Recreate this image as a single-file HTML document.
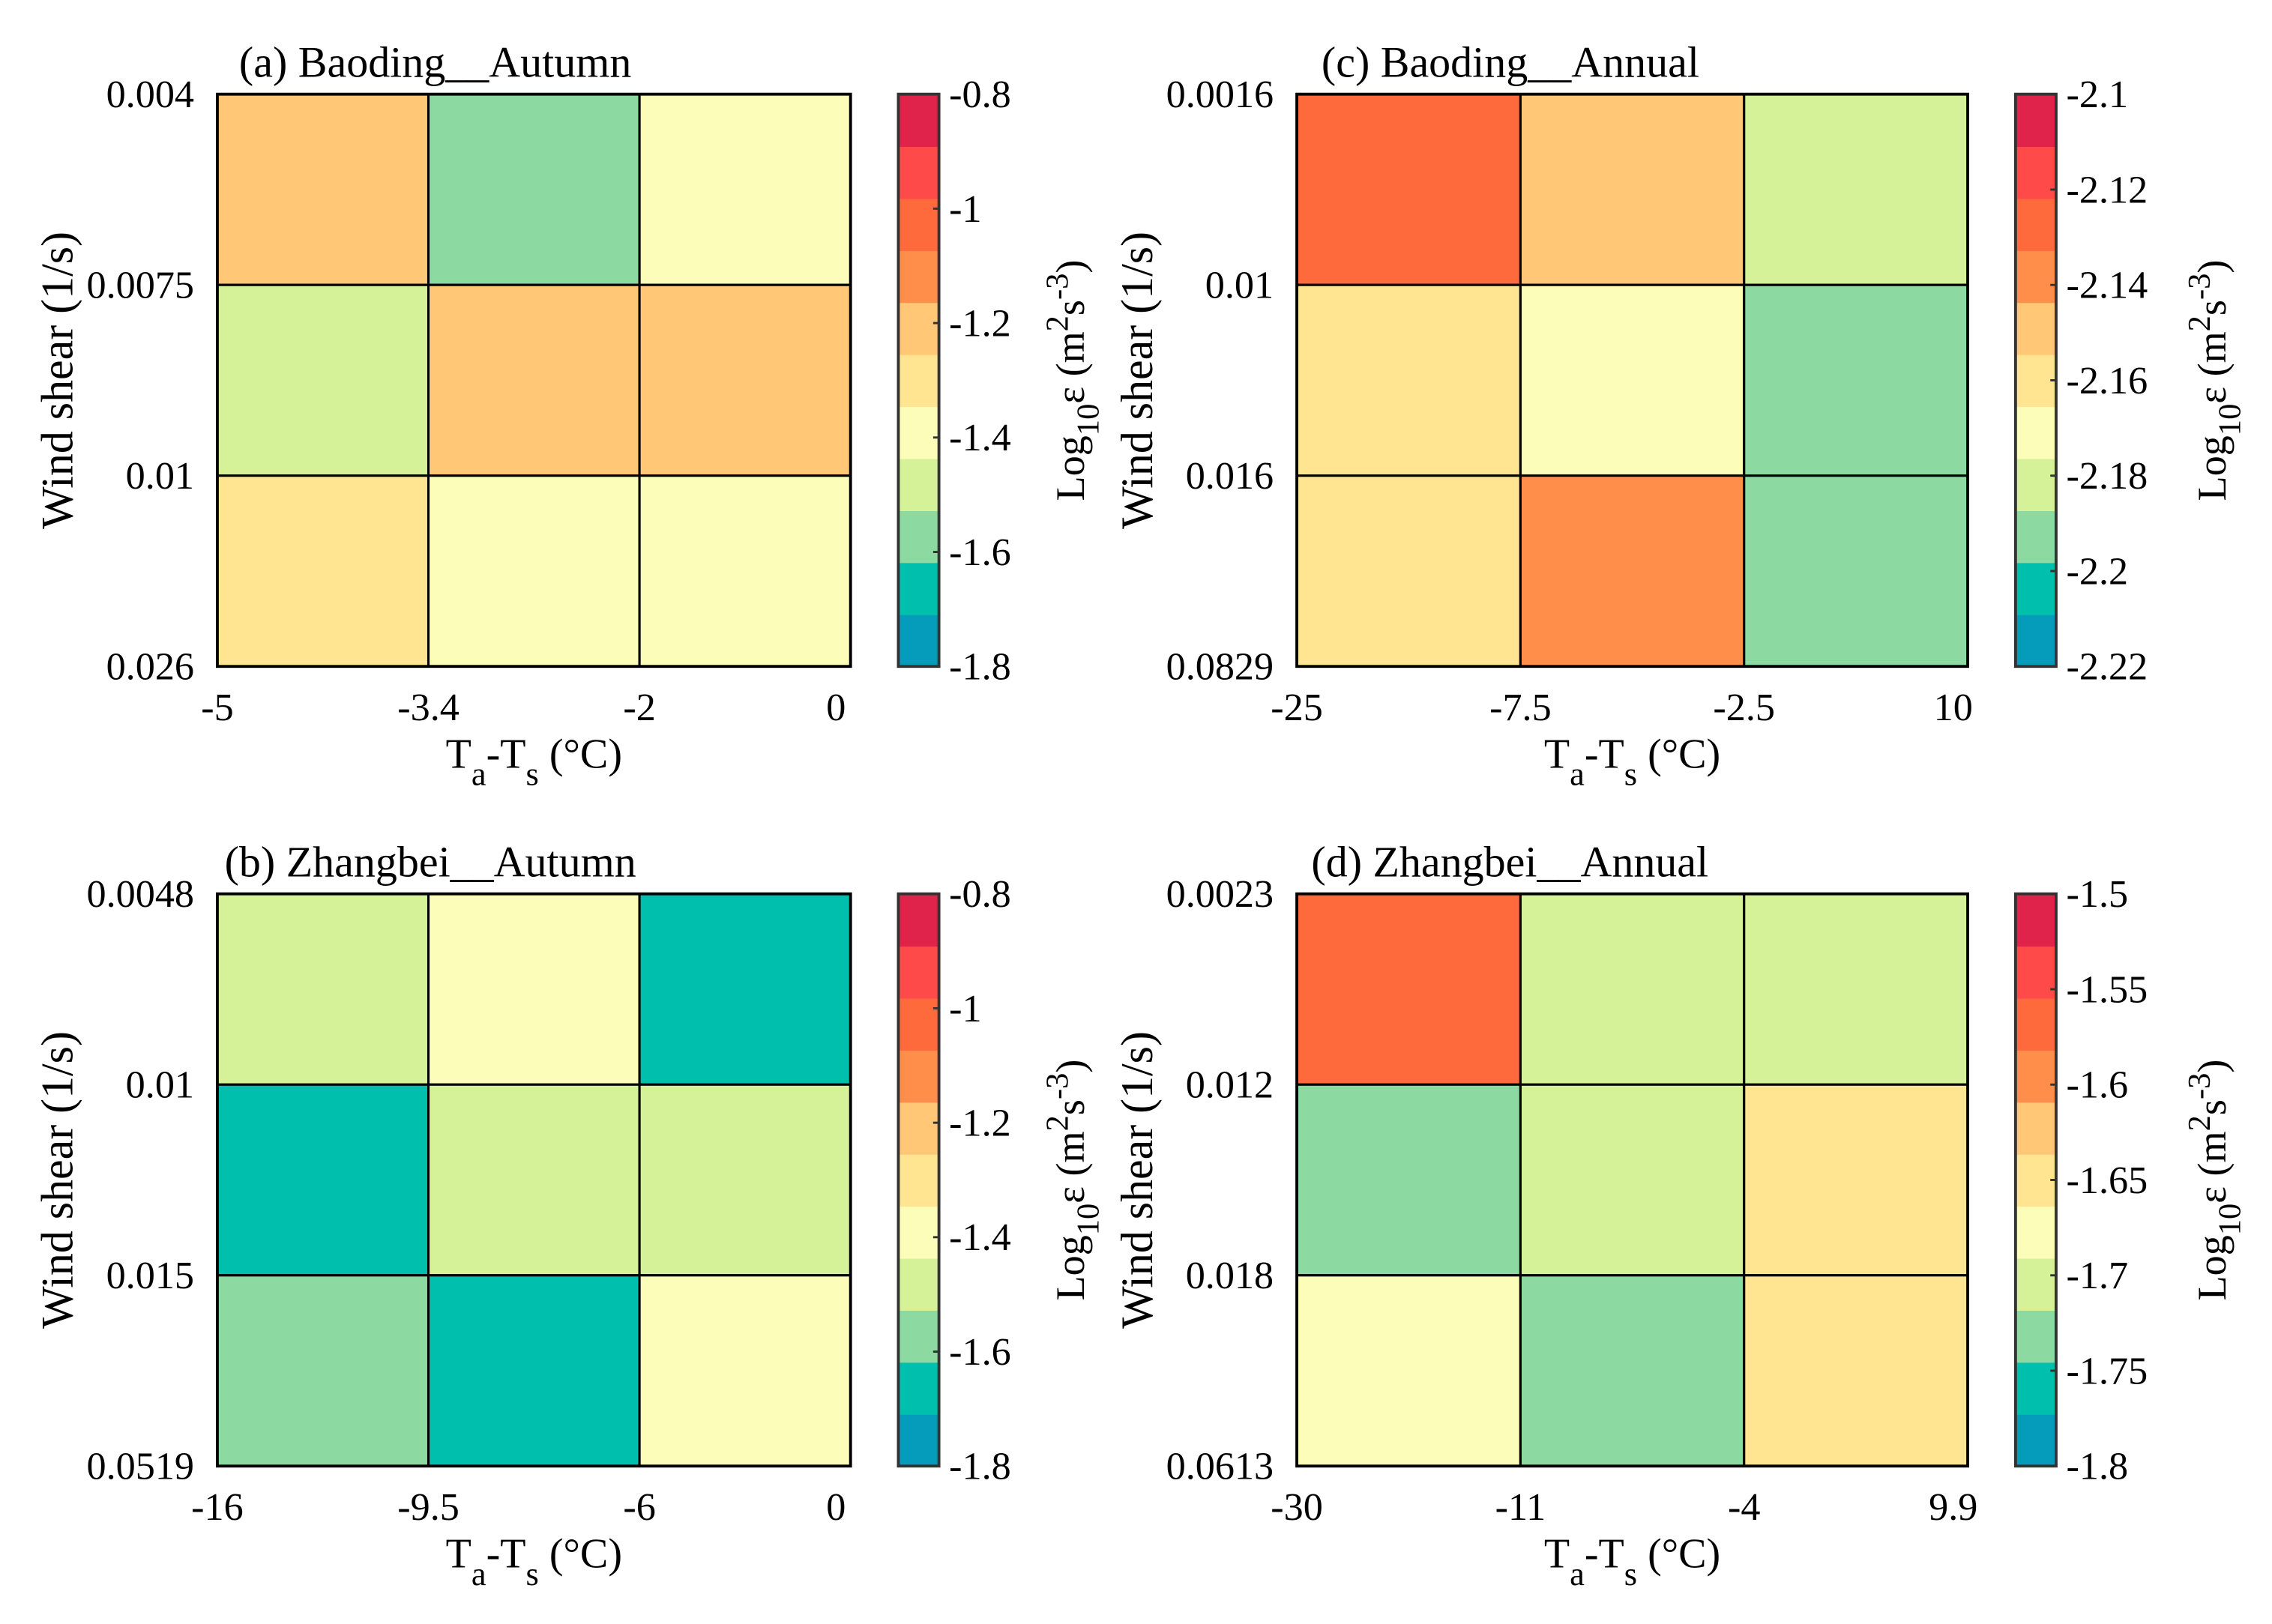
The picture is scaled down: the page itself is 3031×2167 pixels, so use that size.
<!DOCTYPE html>
<html><head><meta charset="utf-8">
<style>
html,body{margin:0;padding:0;background:#fff;}
svg{display:block;font-family:"Liberation Serif",serif;}
</style></head>
<body>
<svg id="fig" width="3031" height="2167" viewBox="0 0 1568 1121" xmlns="http://www.w3.org/2000/svg"></svg>
<script>
const cmap=["#059bba","#00bfad","#8cd9a2","#d5f298","#fbfdb9","#ffe591","#ffc776","#ff8e4b","#ff6a3d","#ff4a4a","#e0234a"];
const binsA=[[6,2,4],[3,6,6],[5,4,4]];
const binsC=[[8,6,3],[5,4,2],[5,7,2]];
const binsB=[[3,4,1],[1,3,3],[2,1,4]];
const binsD=[[8,3,3],[2,3,5],[4,2,5]];
const yTicksA=["0.004","0.0075","0.01","0.026"];
const yTicksC=["0.0016","0.01","0.016","0.0829"];
const yTicksB=["0.0048","0.01","0.015","0.0519"];
const yTicksD=["0.0023","0.012","0.018","0.0613"];
const xTicksA=["-5","-3.4","-2","0"];
const xTicksC=["-25","-7.5","-2.5","10"];
const xTicksB=["-16","-9.5","-6","0"];
const xTicksD=["-30","-11","-4","9.9"];
const cbTicksA=["-0.8","-1","-1.2","-1.4","-1.6","-1.8"];
const cbTicksC=["-2.1","-2.12","-2.14","-2.16","-2.18","-2.2","-2.22"];
const cbTicksD=["-1.5","-1.55","-1.6","-1.65","-1.7","-1.75","-1.8"];
const ranges={a:[-1.8,-0.8],c:[-2.22,-2.1],b:[-1.8,-0.8],d:[-1.8,-1.5]};

const NS="http://www.w3.org/2000/svg";
const svg=document.getElementById('fig');
function mk(tag,attrs,parent){const e=document.createElementNS(NS,tag);for(const k in attrs)e.setAttribute(k,attrs[k]);(parent||svg).appendChild(e);return e;}
function txt(s,attrs,parent){const e=mk('text',attrs,parent);e.textContent=s;return e;}

function panel(key,title,bins,yT,xT,cbT,X0,X1,Y0,Y1,titleX,cbOff){
  const [vmin,vmax]=ranges[key];
  const g=mk('g',{});
  
  
  const vals=bins.map(r=>r.map(b=>vmin+(b+0.5)*(vmax-vmin)/11));
  const nx=3,ny=3;
  const xs=i=>X0+(X1-X0)*i/nx, ys=j=>Y0+(Y1-Y0)*j/ny;
  const col=v=>{let i=Math.floor((v-vmin)/(vmax-vmin)*11);i=Math.max(0,Math.min(10,i));return cmap[i];};
  vals.forEach((row,j)=>row.forEach((v,i)=>{
    const r=mk('rect',{x:xs(i),y:ys(j),width:xs(i+1)-xs(i),height:ys(j+1)-ys(j),fill:col(v),stroke:'#000','stroke-width':1.6},g);
    
    
  }));
  mk('rect',{x:X0,y:Y0,width:X1-X0,height:Y1-Y0,fill:'none',stroke:'#000','stroke-width':2},g);
  yT.forEach((t,j)=>{const e=txt(t,{x:X0-16,y:ys(j)+9,'text-anchor':'end','font-size':27},g);
    });
  xT.forEach((t,i)=>{const e=txt(t,{x:xs(i)-(i==3?10:0),y:Y1+37,'text-anchor':'middle','font-size':27},g);
    });
  const tt=txt(title,{x:titleX,y:Y0-12,'font-size':30},g);
  
  const cy=(Y0+Y1)/2;
  const yl=txt('Wind shear (1/s)',{x:0,y:0,'text-anchor':'middle','font-size':31,transform:`translate(${X0-100},${cy}) rotate(-90)`},g);
  
  const xl=mk('text',{x:(X0+X1)/2,y:Y1+70,'text-anchor':'middle','font-size':29},g);
  
  xl.innerHTML='T<tspan dy="12" font-size="23">a</tspan><tspan dy="-12">-T</tspan><tspan dy="12" font-size="23">s</tspan><tspan dy="-12"> (°C)</tspan>';
  const cx0=X1+33,cx1=cx0+28;
  const cb=mk('g',{},g);
  
  for(let k=0;k<11;k++){
    const h=(Y1-Y0)/11;
    mk('rect',{x:cx0,y:Y1-(k+1)*h,width:28,height:h+0.5,fill:cmap[k]},cb);
  }
  mk('rect',{x:cx0,y:Y0,width:28,height:Y1-Y0,fill:'none',stroke:'#333','stroke-width':2},cb);
  const n=cbT.length-1;
  cbT.forEach((t,k)=>{const y=Y0+(Y1-Y0)*k/n;
    mk('line',{x1:cx1-4,x2:cx1,y1:y,y2:y,stroke:'#333','stroke-width':1.5},cb);
    const e=txt(t,{x:cx1+7,y:y+9,'font-size':27},cb);
    });
  const cl=mk('text',{x:0,y:0,'text-anchor':'middle','font-size':28,transform:`translate(${cx1+cbOff},${cy}) rotate(-90)`},g);
  
  cl.innerHTML='Log<tspan dy="10" font-size="22">10</tspan><tspan dy="-10">ε (m</tspan><tspan dy="-11" font-size="22">2</tspan><tspan dy="11">s</tspan><tspan dy="-11" font-size="22">-3</tspan><tspan dy="11">)</tspan>';
}
panel('a','(a) Baoding__Autumn',binsA,yTicksA,xTicksA,cbTicksA,150,587,65,460,165,100);
panel('c','(c) Baoding__Annual',binsC,yTicksC,xTicksC,cbTicksC,895,1358,65,460,912,117);
panel('b','(b) Zhangbei__Autumn',binsB,yTicksB,xTicksB,cbTicksA,150,587,617,1012,155,100);
panel('d','(d) Zhangbei__Annual',binsD,yTicksD,xTicksD,cbTicksD,895,1358,617,1012,905,117);
</script>
</body></html>
